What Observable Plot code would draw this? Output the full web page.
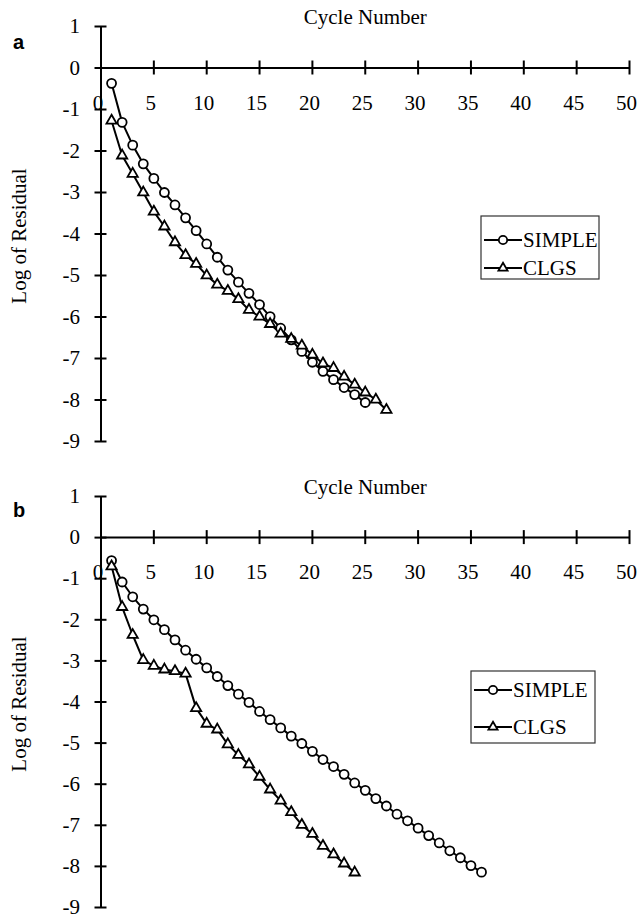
<!DOCTYPE html>
<html>
<head>
<meta charset="utf-8">
<script src="https://cdn.jsdelivr.net/npm/d3@7"></script>
<script src="https://cdn.jsdelivr.net/npm/@observablehq/plot@0.6"></script>
<style>
  body { margin: 0; background: #fff; }
  #page { position: relative; width: 637px; height: 919px; overflow: hidden; }
  .panel { position: absolute; left: 0; }
  .legend { position: absolute; overflow: visible; }
</style>
</head>
<body>
<div id="page"></div>
<script>
// Axis ticks
const cycleTicks = [0, 5, 10, 15, 20, 25, 30, 35, 40, 45, 50];
const logTicks = [1, 0, -1, -2, -3, -4, -5, -6, -7, -8, -9];
const seriesNames = ["SIMPLE", "CLGS"];
const panelNames = ["a", "b"];

// Log of residual per cycle (cycle 1, 2, 3, ...)
const simpleA = [-0.37, -1.31, -1.86, -2.31, -2.66, -3.00, -3.30, -3.61, -3.92, -4.24,
  -4.56, -4.87, -5.16, -5.43, -5.70, -5.99, -6.27, -6.55, -6.83, -7.09,
  -7.31, -7.51, -7.70, -7.87, -8.06];
const clgsA = [-1.27, -2.11, -2.55, -3.00, -3.46, -3.82, -4.20, -4.51, -4.72, -5.00,
  -5.22, -5.37, -5.57, -5.83, -5.99, -6.17, -6.40, -6.53, -6.69, -6.91,
  -7.12, -7.23, -7.44, -7.63, -7.82, -7.99, -8.24];
const simpleB = [-0.56, -1.08, -1.44, -1.74, -2.00, -2.24, -2.49, -2.74, -2.96, -3.17,
  -3.38, -3.60, -3.81, -4.01, -4.23, -4.43, -4.63, -4.83, -5.01, -5.20,
  -5.40, -5.57, -5.76, -5.97, -6.15, -6.35, -6.53, -6.73, -6.89, -7.07,
  -7.25, -7.43, -7.62, -7.79, -7.98, -8.14];
const clgsB = [-0.70, -1.69, -2.37, -2.98, -3.12, -3.21, -3.25, -3.31, -4.15, -4.53,
  -4.67, -5.03, -5.29, -5.52, -5.82, -6.13, -6.40, -6.68, -6.99, -7.21,
  -7.50, -7.71, -7.93, -8.15];

const serif = "'Liberation Serif', 'Times New Roman', serif";
const fs = 21;

function toRows(values) {
  return values.map((v, i) => ({cycle: i + 1, log: v}));
}

function panel(name, simple, clgs, layout) {
  const s = toRows(simple), c = toRows(clgs);
  return Plot.plot({
    width: 637,
    height: layout.height,
    marginTop: layout.top,
    marginBottom: layout.bottom,
    marginLeft: 100.5,
    marginRight: 8,
    style: {fontFamily: serif, fontSize: fs + "px", background: "transparent", overflow: "visible", color: "#000"},
    x: {domain: [0, 50], axis: null},
    y: {domain: [-9, 1], axis: null},
    marks: [
      // axes crossing at the origin
      Plot.ruleY([0], {stroke: "#000", strokeWidth: 2}),
      Plot.ruleX([0], {stroke: "#000", strokeWidth: 2}),
      Plot.ruleX(cycleTicks, {x: d => d, y1: 0, y2: 0, insetTop: -7, insetBottom: -7, stroke: "#000", strokeWidth: 2}),
      Plot.ruleY(logTicks, {y: d => d, x1: 0, x2: 0, insetLeft: -6, insetRight: -6, stroke: "#000", strokeWidth: 2}),
      Plot.text(cycleTicks, {x: d => d, y: 0, dy: 35, dx: -3, text: d => String(d), fontSize: fs, fill: "#000"}),
      Plot.text(logTicks, {x: 0, y: d => d, dx: -21, text: d => String(d), textAnchor: "end", fontSize: fs, fill: "#000"}),
      Plot.text(["Cycle Number"], {frameAnchor: "top", dy: -9, lineAnchor: "middle", text: d => d, fontSize: fs, fill: "#000"}),
      Plot.text(["Log of Residual"], {frameAnchor: "left", dx: -82, dy: 2, rotate: -90, textAnchor: "middle", lineAnchor: "middle", text: d => d, fontSize: fs, fill: "#000"}),
      Plot.text([name], {frameAnchor: "top-left", dx: -88, dy: layout.labelDy, text: d => d, fontSize: 20, fontWeight: "bold", fontFamily: "'Liberation Sans', Arial, sans-serif", fill: "#000"}),
      // series
      Plot.line(s, {x: "cycle", y: "log", stroke: "#000", strokeWidth: 2}),
      Plot.line(c, {x: "cycle", y: "log", stroke: "#000", strokeWidth: 2}),
      Plot.dot(s, {x: "cycle", y: "log", symbol: "circle", r: 4.5, fill: "#fff", stroke: "#000", strokeWidth: 1.8}),
      Plot.dot(c, {x: "cycle", y: "log", symbol: "triangle", r: 3.8, fill: "#fff", stroke: "#000", strokeWidth: 1.8})
    ]
  });
}

function legend(box) {
  const ns = "http://www.w3.org/2000/svg";
  const pad = 6;
  const svg = document.createElementNS(ns, "svg");
  svg.setAttribute("width", box.w + 2 * pad);
  svg.setAttribute("height", box.h + 2 * pad);
  svg.setAttribute("class", "legend");
  svg.style.left = (box.x - pad) + "px";
  svg.style.top = (box.y - pad) + "px";
  const el = (tag, attrs) => {
    const e = document.createElementNS(ns, tag);
    for (const k in attrs) e.setAttribute(k, attrs[k]);
    svg.appendChild(e);
    return e;
  };
  el("rect", {x: pad, y: pad, width: box.w, height: box.h, fill: "#fff", stroke: "#333", "stroke-width": 1.2});
  seriesNames.forEach((label, i) => {
    const cy = pad + box.rows[i];
    el("line", {x1: pad + 3, x2: pad + 41, y1: cy, y2: cy, stroke: "#000", "stroke-width": 2});
    if (i === 0) {
      el("circle", {cx: pad + 22, cy, r: 4.2, fill: "#fff", stroke: "#000", "stroke-width": 1.8});
    } else {
      const sym = d3.symbol(d3.symbolTriangle, Math.PI * 3.4 * 3.4)();
      el("path", {d: sym, transform: `translate(${pad + 22},${cy})`, fill: "#fff", stroke: "#000", "stroke-width": 1.8});
    }
    const t = el("text", {x: pad + 42, y: cy, "dominant-baseline": "central", "font-family": serif, "font-size": fs});
    t.textContent = label;
  });
  return svg;
}

const page = document.getElementById("page");
const layouts = [
  {height: 460, top: 26, bottom: 19, offset: 0, labelDy: 8},
  {height: 459, top: 36, bottom: 12, offset: 460, labelDy: 6}
];
const data = [[simpleA, clgsA], [simpleB, clgsB]];
panelNames.forEach((name, i) => {
  const chart = panel(name, data[i][0], data[i][1], layouts[i]);
  chart.classList.add("panel");
  chart.style.top = layouts[i].offset + "px";
  page.appendChild(chart);
});
page.appendChild(legend({x: 481, y: 216, w: 118, h: 63, rows: [24, 52]}));
page.appendChild(legend({x: 471, y: 671, w: 124, h: 72, rows: [19, 56]}));
</script>
</body>
</html>
